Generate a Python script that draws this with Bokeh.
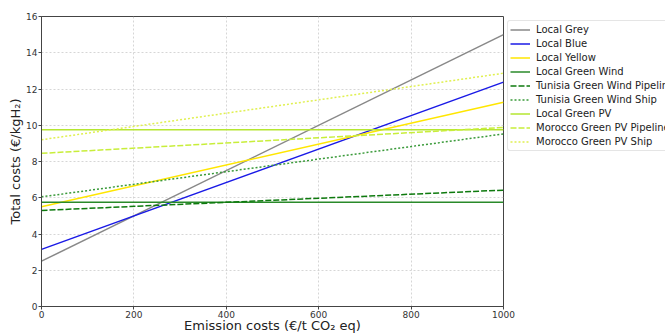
from bokeh.plotting import figure
from bokeh.models import Legend, LegendItem, Range1d, FixedTicker
from bokeh.embed import file_html
from bokeh.resources import INLINE

x_vals = [0, 1000]
names = ["Local Grey", "Local Blue", "Local Yellow", "Local Green Wind",
         "Tunisia Green Wind Pipeline", "Tunisia Green Wind Ship",
         "Local Green PV", "Morocco Green PV Pipeline", "Morocco Green PV Ship"]
start_costs = [2.5, 3.15, 5.5, 5.75, 5.3, 6.05, 9.75, 8.45, 9.2]
end_costs = [15.0, 12.38, 11.27, 5.75, 6.42, 9.52, 9.75, 9.88, 12.87]
colors = ["#888888", "#1a1ae6", "#ffe600", "#2a8a2a", "#0e7a0e", "#3a9a3a",
          "#b5e630", "#c8ee3a", "#e0f050"]
dashes = ["solid", "solid", "solid", "solid", "6 2", "2 2", "solid", "6 2", "2 2"]
x_ticks = [0, 200, 400, 600, 800, 1000]
y_ticks = [0, 2, 4, 6, 8, 10, 12, 14, 16]

p = figure(frame_width=462, frame_height=290, output_backend="svg", toolbar_location=None,
           x_range=Range1d(0, 1000), y_range=Range1d(0, 16),
           min_border_left=41, min_border_top=16, min_border_bottom=27, min_border_right=0)

items = []
for n, a, b, c, d in zip(names, start_costs, end_costs, colors, dashes):
    r = p.line(x_vals, [a, b], line_color=c, line_width=1.5, line_dash=d)
    items.append(LegendItem(label=n, renderers=[r]))

p.xaxis.ticker = FixedTicker(ticks=x_ticks)
p.yaxis.ticker = FixedTicker(ticks=y_ticks)
p.xaxis.axis_label = "Emission costs (€/t CO₂ eq)"
p.yaxis.axis_label = "Total costs (€/kgH₂)"
for ax in (p.xaxis, p.yaxis):
    ax.axis_label_text_font = "DejaVu Sans"
    ax.axis_label_text_font_size = "13px"
    ax.axis_label_text_font_style = "normal"
    ax.axis_label_text_color = "#222222"
    ax.major_label_text_font = "DejaVu Sans"
    ax.major_label_text_font_size = "9px"
    ax.major_label_text_color = "#333333"
    ax.minor_tick_line_color = None
    ax.major_tick_in = 0
    ax.major_tick_out = 3
    ax.axis_line_color = "#444444"
    ax.major_tick_line_color = "#444444"
    ax.major_label_standoff = 1
p.xaxis.axis_label_standoff = -3
p.yaxis.axis_label_standoff = 0

p.grid.grid_line_color = "#cccccc"
p.grid.grid_line_dash = "2 2"
p.grid.grid_line_width = 0.8
p.outline_line_color = "#444444"
p.outline_line_alpha = 1.0

legend = Legend(items=items, location="top_left", orientation="vertical")
legend.label_text_font = "DejaVu Sans"
legend.label_text_font_size = "10px"
legend.label_text_color = "#222222"
legend.glyph_width = 20
legend.glyph_height = 13
legend.label_height = 13
legend.spacing = 1
legend.padding = 2
legend.margin = 4
legend.label_standoff = 6
legend.border_line_color = "#cccccc"
legend.border_radius = 3
legend.background_fill_color = "white"
legend.background_fill_alpha = 0.9
p.add_layout(legend, "right")

open("out.html", "w").write(file_html(p, INLINE))
